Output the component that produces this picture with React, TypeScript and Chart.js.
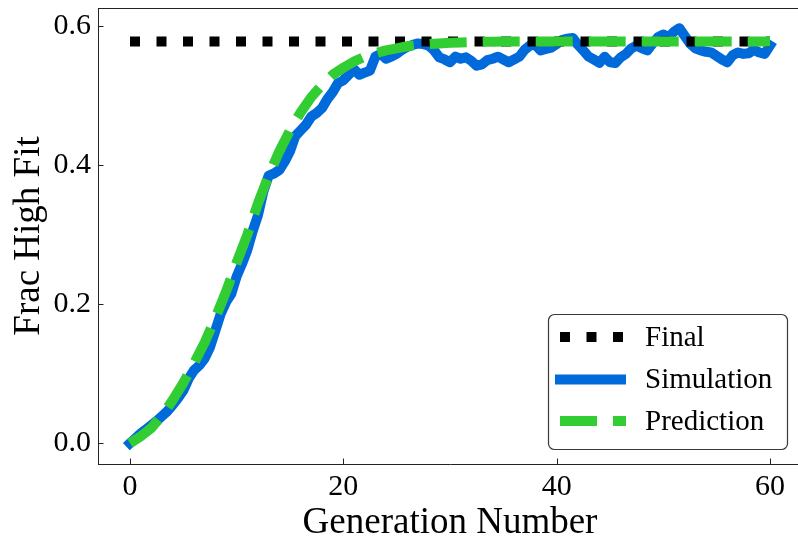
import React, { useEffect, useRef } from "react";
import { Chart, registerables } from "chart.js";
Chart.register(...registerables);

const FONT = '"Liberation Serif", "Times New Roman", serif';

// x positions: generations 0..60 (prediction), simulation sampled every half generation
const generations = Array.from({ length: 61 }, (_, i) => i);
const simStep = 0.5;
const xTicks = [0, 20, 40, 60];
const yTicks = [0.0, 0.2, 0.4, 0.6];
const xLabel = "Generation Number";
const yLabel = "Frac High Fit";
const legendLabels = ["Final", "Simulation", "Prediction"];

const finalX = [0, 60];
const finalValues = [0.578, 0.578];

const simulationValues = [
  0.0, 0.007, 0.014, 0.02, 0.026, 0.032, 0.039, 0.046, 0.055, 0.065,
  0.076, 0.093, 0.105, 0.112, 0.122, 0.138, 0.162, 0.186, 0.203, 0.215,
  0.24, 0.258, 0.278, 0.305, 0.328, 0.362, 0.385, 0.388, 0.393, 0.405,
  0.42, 0.442, 0.45, 0.458, 0.47, 0.475, 0.482, 0.495, 0.505, 0.518,
  0.522, 0.53, 0.538, 0.53, 0.533, 0.536, 0.556, 0.56, 0.553, 0.556,
  0.56, 0.566, 0.57, 0.573, 0.575, 0.574, 0.572, 0.565, 0.555, 0.552,
  0.548, 0.556, 0.553, 0.555, 0.55, 0.543, 0.545, 0.551, 0.553, 0.556,
  0.552, 0.548, 0.552, 0.556, 0.566, 0.572, 0.573, 0.565, 0.567, 0.569,
  0.574, 0.58, 0.582, 0.583, 0.573, 0.565, 0.556, 0.552, 0.547, 0.556,
  0.548, 0.547, 0.555, 0.56, 0.568, 0.572, 0.568, 0.565, 0.575, 0.584,
  0.588, 0.584, 0.592, 0.597, 0.586, 0.575, 0.568, 0.565, 0.563, 0.562,
  0.557, 0.552, 0.548, 0.558, 0.562, 0.56, 0.561, 0.566, 0.562, 0.56,
  0.572,
];

const predictionValues = [
  0.0, 0.01, 0.022, 0.04, 0.062, 0.087, 0.115, 0.145, 0.18, 0.218,
  0.26, 0.3, 0.345, 0.385, 0.42, 0.45, 0.476, 0.498, 0.515, 0.53,
  0.54, 0.549, 0.556, 0.561, 0.565, 0.568, 0.571, 0.573, 0.574, 0.575,
  0.576, 0.5765, 0.577, 0.5773, 0.5775, 0.5777, 0.5778, 0.5779, 0.578, 0.578,
  0.578, 0.578, 0.578, 0.578, 0.578, 0.578, 0.578, 0.578, 0.578, 0.578,
  0.578, 0.578, 0.578, 0.578, 0.578, 0.578, 0.578, 0.578, 0.578, 0.578,
  0.578,
];

const BLUE = "rgb(0,106,218)";
const GREEN = "#32CD32";
const AXIS = "#222";

const decorPlugin = {
  id: "decor",
  afterDatasetsDraw(chart: any) {
    const { ctx, chartArea, scales } = chart;
    const { left, right, top, bottom } = chartArea;
    ctx.save();
    // top spine
    ctx.strokeStyle = AXIS;
    ctx.lineWidth = 1;
    ctx.beginPath();
    ctx.moveTo(left, top + 0.5);
    ctx.lineTo(right, top + 0.5);
    ctx.stroke();
    // inward ticks
    ctx.beginPath();
    for (const v of xTicks) {
      const px = Math.round(scales.x.getPixelForValue(v)) + 0.5;
      ctx.moveTo(px, bottom);
      ctx.lineTo(px, bottom - 5.5);
    }
    for (const v of yTicks) {
      const py = Math.round(scales.y.getPixelForValue(v)) + 0.5;
      ctx.moveTo(left, py);
      ctx.lineTo(left + 5.5, py);
    }
    ctx.stroke();

    // axis titles
    ctx.fillStyle = "#000";
    ctx.font = `37px ${FONT}`;
    ctx.textAlign = "center";
    ctx.textBaseline = "alphabetic";
    ctx.fillText(xLabel, (left + right) / 2, 533);
    ctx.save();
    ctx.translate(39, (top + bottom) / 2);
    ctx.rotate(-Math.PI / 2);
    ctx.fillText(yLabel, 0, 0);
    ctx.restore();

    // legend
    const bx = 548, by = 314, bw = 239, bh = 135;
    ctx.beginPath();
    (ctx as any).roundRect(bx + 0.5, by + 0.5, bw, bh, 6);
    ctx.fillStyle = "rgba(255,255,255,0.85)";
    ctx.fill();
    ctx.strokeStyle = "#3a3a3a";
    ctx.lineWidth = 1.2;
    ctx.stroke();

    const rows = [337, 379.5, 421];
    const x0 = 555, x1 = 626;
    // Final
    ctx.lineCap = "butt";
    ctx.strokeStyle = "#000";
    ctx.lineWidth = 10;
    ctx.setLineDash([10, 16.5]);
    ctx.lineDashOffset = -5;
    ctx.beginPath();
    ctx.moveTo(x0, rows[0]);
    ctx.lineTo(x1, rows[0]);
    ctx.stroke();
    // Simulation
    ctx.setLineDash([]);
    ctx.lineDashOffset = 0;
    ctx.strokeStyle = BLUE;
    ctx.beginPath();
    ctx.moveTo(x0, rows[1]);
    ctx.lineTo(x1, rows[1]);
    ctx.stroke();
    // Prediction
    ctx.strokeStyle = GREEN;
    ctx.setLineDash([37, 16]);
    ctx.lineDashOffset = -5;
    ctx.beginPath();
    ctx.moveTo(x0, rows[2]);
    ctx.lineTo(x1, rows[2]);
    ctx.stroke();
    ctx.setLineDash([]);

    ctx.fillStyle = "#000";
    ctx.font = `29px ${FONT}`;
    ctx.textAlign = "left";
    ctx.textBaseline = "middle";
    legendLabels.forEach((t, i) => ctx.fillText(t, 645, rows[i] + 1));
    ctx.restore();
  },
};

export default function App() {
  const ref = useRef<HTMLCanvasElement | null>(null);
  useEffect(() => {
    if (!ref.current) return;
    const chart = new Chart(ref.current, {
      type: "line",
      data: {
        datasets: [
          {
            label: legendLabels[2],
            data: predictionValues.map((v, i) => ({ x: generations[i], y: v })),
            borderColor: GREEN,
            borderWidth: 10,
            borderDash: [37, 16],
            borderCapStyle: "butt",
            borderJoinStyle: "round",
            pointRadius: 0,
            tension: 0,
            fill: false,
            order: 0,
          },
          {
            label: legendLabels[0],
            data: finalValues.map((v, i) => ({ x: finalX[i], y: v })),
            borderColor: "#000",
            borderWidth: 10,
            borderDash: [10, 16.5],
            borderCapStyle: "butt",
            pointRadius: 0,
            tension: 0,
            fill: false,
            order: 1,
          },
          {
            label: legendLabels[1],
            data: simulationValues.map((v, i) => ({ x: i * simStep, y: v })),
            borderColor: BLUE,
            borderWidth: 10,
            borderCapStyle: "square",
            borderJoinStyle: "round",
            pointRadius: 0,
            tension: 0,
            fill: false,
            order: 2,
          },
        ],
      } as any,
      options: {
        responsive: false,
        animation: false,
        events: [],
        layout: { padding: { top: 8, right: 8, left: 0, bottom: 0 } },
        plugins: { legend: { display: false }, tooltip: { enabled: false } },
        scales: {
          x: {
            type: "linear",
            min: -3,
            max: 63,
            grid: { display: false, drawTicks: false },
            border: { display: true, color: AXIS, width: 1 },
            ticks: { font: { family: FONT, size: 30 }, color: "#000", padding: 5, maxRotation: 0 },
            afterBuildTicks: (s: any) => {
              s.ticks = xTicks.map((v) => ({ value: v }));
            },
            afterFit: (s: any) => {
              s.height = 72;
              s.paddingLeft = 0;
              s.paddingRight = 0;
            },
          },
          y: {
            type: "linear",
            min: -0.0298,
            max: 0.626,
            grid: { display: false, drawTicks: false },
            border: { display: true, color: AXIS, width: 1 },
            ticks: {
              font: { family: FONT, size: 30 },
              color: "#000",
              padding: 7,
              callback: (v: any) => Number(v).toFixed(1),
            },
            afterBuildTicks: (s: any) => {
              s.ticks = yTicks.map((v) => ({ value: v }));
            },
            afterFit: (s: any) => {
              s.width = 98;
              s.paddingTop = 0;
              s.paddingBottom = 0;
            },
          },
        },
      } as any,
      plugins: [decorPlugin],
    });
    return () => chart.destroy();
  }, []);
  return (
    <div
      style={{
        position: "fixed",
        left: 0,
        top: 0,
        width: 798,
        height: 536,
        overflow: "hidden",
        background: "#fff",
      }}
    >
      <canvas ref={ref} width={810} height={536} style={{ display: "block" }} />
    </div>
  );
}
